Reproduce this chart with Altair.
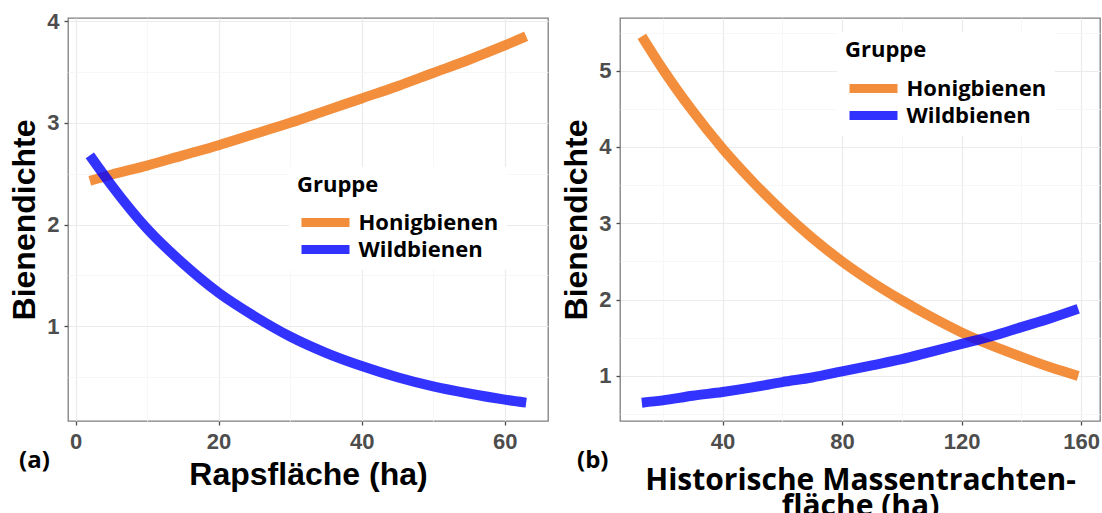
import altair as alt
import pandas as pd

# ---- data ----
groups = ["Honigbienen", "Wildbienen"]
colors = ["#EF720B", "#0000FF"]

raps_x = [2, 5, 10, 15, 20, 25, 30, 35, 40, 45, 50, 55, 60, 63]
raps_honig = [2.43, 2.49, 2.58, 2.68, 2.78, 2.89, 3.00, 3.12, 3.24, 3.36, 3.49, 3.62, 3.76, 3.85]
raps_wild = [2.68, 2.39, 1.96, 1.62, 1.33, 1.10, 0.90, 0.74, 0.61, 0.50, 0.41, 0.34, 0.28, 0.25]

hist_x = [13, 20, 30, 40, 50, 60, 70, 80, 90, 100, 110, 120, 130, 140, 150, 159]
hist_honig = [5.45, 5.02, 4.47, 3.98, 3.55, 3.16, 2.81, 2.50, 2.23, 1.99, 1.77, 1.57, 1.40, 1.25, 1.11, 1.00]
hist_wild = [0.65, 0.68, 0.74, 0.79, 0.85, 0.92, 0.98, 1.06, 1.14, 1.22, 1.32, 1.42, 1.52, 1.64, 1.76, 1.88]

raps_xticks = [0, 10, 20, 30, 40, 50, 60]
raps_yticks = [0.5, 1, 1.5, 2, 2.5, 3, 3.5, 4]
hist_xticks = [20, 40, 60, 80, 100, 120, 140, 160]
hist_yticks = [0.5, 1, 1.5, 2, 2.5, 3, 3.5, 4, 4.5, 5, 5.5]

LABEL_FONT = "Liberation Sans"
TEXT_FONT = "Open Sans"
W, H = 480, 403


def make_df(xs, honig, wild):
    rows = []
    for x, y in zip(xs, honig):
        rows.append({"x": x, "y": y, "Gruppe": groups[0]})
    for x, y in zip(xs, wild):
        rows.append({"x": x, "y": y, "Gruppe": groups[1]})
    return pd.DataFrame(rows)


def cond_color(test, on, off):
    return {"condition": {"test": test, "value": on}, "value": off}


def panel(df, xdom, ydom, xticks, xmajor, yticks, xtitle, xfont, xsize, xtitleY,
          legX, legY, titlePad, tag, tagX):
    xtest = f"datum.value % {xmajor} === 0"
    ytest = "datum.value % 1 === 0"
    xaxis = alt.Axis(
        values=xticks,
        labelExpr=f"{xtest} ? '' + datum.value : ''",
        grid=True,
        gridColor=cond_color(xtest, "#EBEBEB", "#F5F5F5"),
        gridWidth=cond_color(xtest, 1.2, 0.8),
        tickColor=cond_color(xtest, "#4D4D4D", "rgba(0,0,0,0)"),
        tickSize=4, tickWidth=1.3,
        domain=False,
        labelFont=LABEL_FONT, labelFontSize=22, labelFontWeight="bold",
        labelColor="#4D4D4D", labelPadding=6, labelOverlap=False, labelFlush=False,
        title=xtitle, titleFont=xfont, titleFontSize=xsize, titleFontWeight="bold",
        titleColor="black", titleY=xtitleY, titleBaseline="alphabetic",
        titleLineHeight=26,
    )
    yaxis = alt.Axis(
        values=yticks,
        labelExpr=f"{ytest} ? '' + datum.value : ''",
        grid=True,
        gridColor=cond_color(ytest, "#EBEBEB", "#F5F5F5"),
        gridWidth=cond_color(ytest, 1.2, 0.8),
        tickColor=cond_color(ytest, "#4D4D4D", "rgba(0,0,0,0)"),
        tickSize=4, tickWidth=1.3,
        domain=False,
        labelFont=LABEL_FONT, labelFontSize=22, labelFontWeight="bold",
        labelColor="#4D4D4D", labelPadding=5, labelOverlap=False, labelFlush=False,
        title="Bienendichte", titleFont=LABEL_FONT, titleFontSize=32,
        titleFontWeight="bold", titleColor="black",
        titleX=-34, titleY=H / 2, titleBaseline="alphabetic", titleAngle=270,
    )
    legend = alt.Legend(
        orient="none", legendX=legX, legendY=legY,
        title="Gruppe", titleFont=TEXT_FONT, titleFontSize=22, titleFontWeight="bold",
        titleColor="black", titlePadding=titlePad,
        labelFont=TEXT_FONT, labelFontSize=22, labelFontWeight="bold",
        labelColor="black", labelOffset=4.5,
        symbolType="stroke", symbolSize=2304, symbolStrokeWidth=9,
        symbolOpacity=0.8, clipHeight=25, rowPadding=2,
        padding=8, fillColor="white",
    )
    lines = alt.Chart(df).mark_line(
        strokeWidth=10, opacity=0.8, strokeCap="butt", interpolate="monotone", clip=True
    ).encode(
        x=alt.X("x:Q", scale=alt.Scale(domain=xdom, nice=False, zero=False), axis=xaxis),
        y=alt.Y("y:Q", scale=alt.Scale(domain=ydom, nice=False, zero=False), axis=yaxis),
        color=alt.Color("Gruppe:N", scale=alt.Scale(domain=groups, range=colors), legend=legend),
        order=alt.Order("x:Q"),
    )
    label = alt.Chart(pd.DataFrame({"t": [tag]})).mark_text(
        font=TEXT_FONT, fontSize=24, fontWeight="bold", color="black",
        align="left", baseline="alphabetic",
    ).encode(x=alt.value(tagX), y=alt.value(450), text="t:N")
    return alt.layer(lines, label).properties(width=W, height=H)


left = panel(make_df(raps_x, raps_honig, raps_wild), [-1.05, 66.05], [0.07, 4.03],
             raps_xticks, 20, raps_yticks, "Rapsfläche (ha)", LABEL_FONT, 32, 63,
             221, 149, 13, "(a)", -49)
right = panel(make_df(hist_x, hist_honig, hist_wild), [5.7, 166.3], [0.41, 5.69],
              hist_xticks, 40, hist_yticks,
              ["Historische Massentrachten-", "fläche (ha)"], TEXT_FONT, 30, 68,
              217, 14, 14, "(b)", -43)

chart = alt.hconcat(left, right, spacing=72, bounds="flush").resolve_scale(
    color="independent"
).properties(
    padding={"left": 7, "top": 9, "right": 0, "bottom": 0},
    background="white",
).configure_view(stroke="#7F7F7F", strokeWidth=1.3)

chart.save("out.html", embed_options={"renderer": "svg", "actions": False})
